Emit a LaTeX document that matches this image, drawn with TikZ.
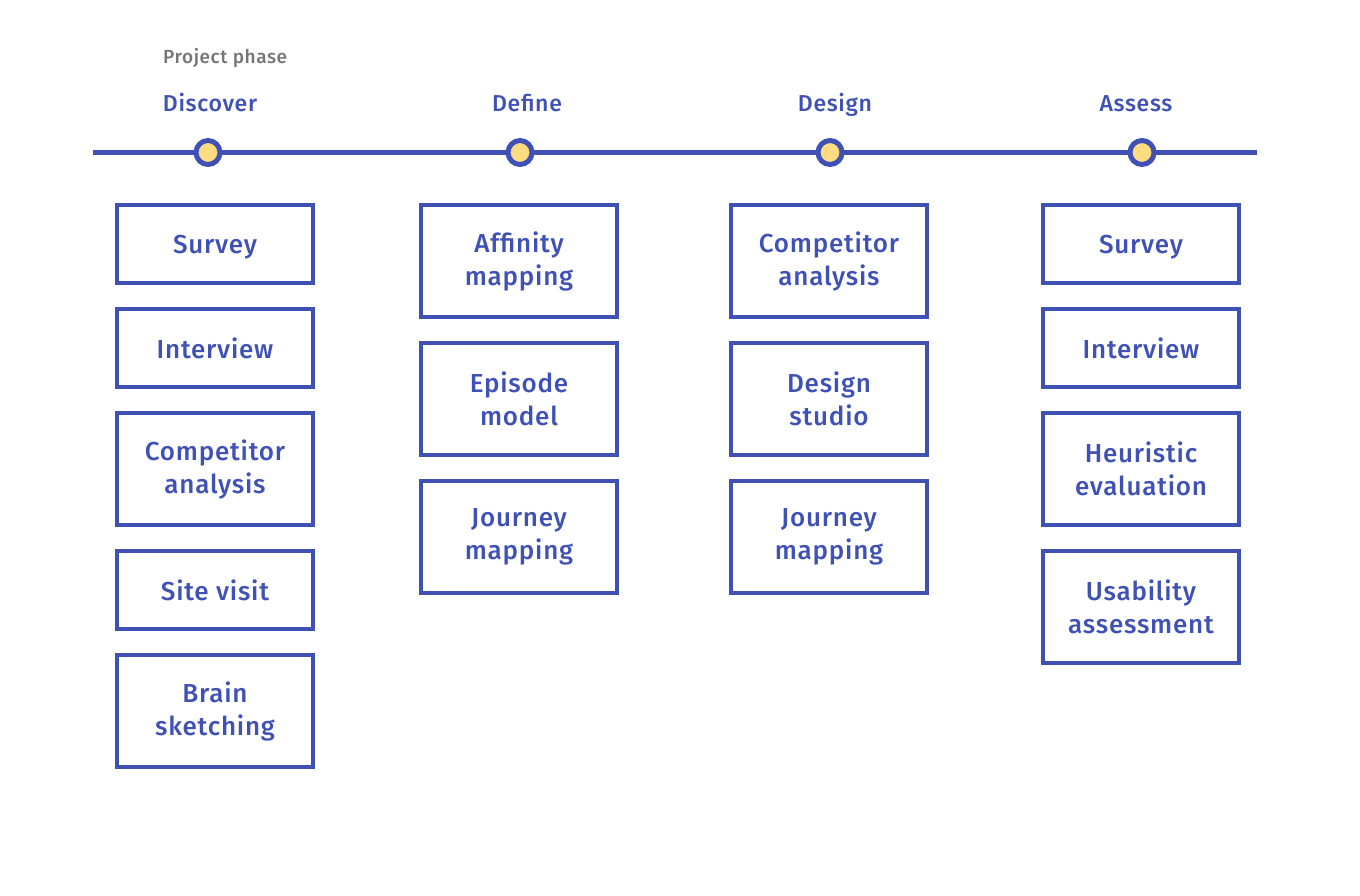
\documentclass[tikz,border=0pt]{standalone}
\usepackage{fontspec}
\setmainfont{Fira Sans}[UprightFont=* Medium,LetterSpace=3]
\definecolor{ind}{HTML}{3F51B5}
\definecolor{amb}{HTML}{FFDC80}
\definecolor{gry}{HTML}{757575}
\begin{document}
\begin{tikzpicture}[x=1pt,y=-1pt,
  box/.style={draw=ind,line width=3.6pt,minimum width=196.4pt,align=center,text=ind,font=\fontsize{26}{33}\selectfont,inner sep=0pt},
  one/.style={box,minimum height=78.4pt,text height=20pt,text depth=0pt},
  two/.style={box,minimum height=112.4pt},
  phase/.style={text=ind,font=\fontsize{23}{26}\selectfont,anchor=base,inner sep=0pt},
  dot/.style={circle,draw=ind,line width=5pt,fill=amb,minimum size=24pt,inner sep=0pt}]
\useasboundingbox (0,0) rectangle (1360,896);
\node[text=gry,font=\fontsize{19}{22}\selectfont,anchor=base west,inner sep=0pt] (pp) at (163,64) {Project phase};
\node[phase] (p1) at (210,112) {Discover};
\node[phase] (p2) at (527,112) {Define};
\node[phase] (p3) at (835,112) {Design};
\node[phase] (p4) at (1136,112) {Assess};
\coordinate (ls) at (93,152.5);
\coordinate (le) at (1257,152.5);
\draw[ind,line width=5.5pt] (ls) -- (le);
\node[dot] (d1) at (208,152.5) {};
\node[dot] (d2) at (520,152.5) {};
\node[dot] (d3) at (830,152.5) {};
\node[dot] (d4) at (1142,152.5) {};
% column 1
\node[one] (a1) at (215,244) {Survey};
\node[one] (a2) at (215,348) {Interview};
\node[two] (a3) at (215,469) {Competitor\\analysis};
\node[one] (a4) at (215,590) {Site visit};
\node[two] (a5) at (215,711) {Brain\\sketching};
% column 2
\node[two] (b1) at (519,261) {Affinity\\mapping};
\node[two] (b2) at (519,399) {Episode\\model};
\node[two] (b3) at (519,537) {Journey\\mapping};
% column 3
\node[two] (c1) at (829,261) {Competitor\\analysis};
\node[two] (c2) at (829,399) {Design\\studio};
\node[two] (c3) at (829,537) {Journey\\mapping};
% column 4
\node[one] (e1) at (1141,244) {Survey};
\node[one] (e2) at (1141,348) {Interview};
\node[two] (e3) at (1141,469) {Heuristic\\evaluation};
\node[two] (e4) at (1141,607) {Usability\\assessment};
\end{tikzpicture}
\end{document}
